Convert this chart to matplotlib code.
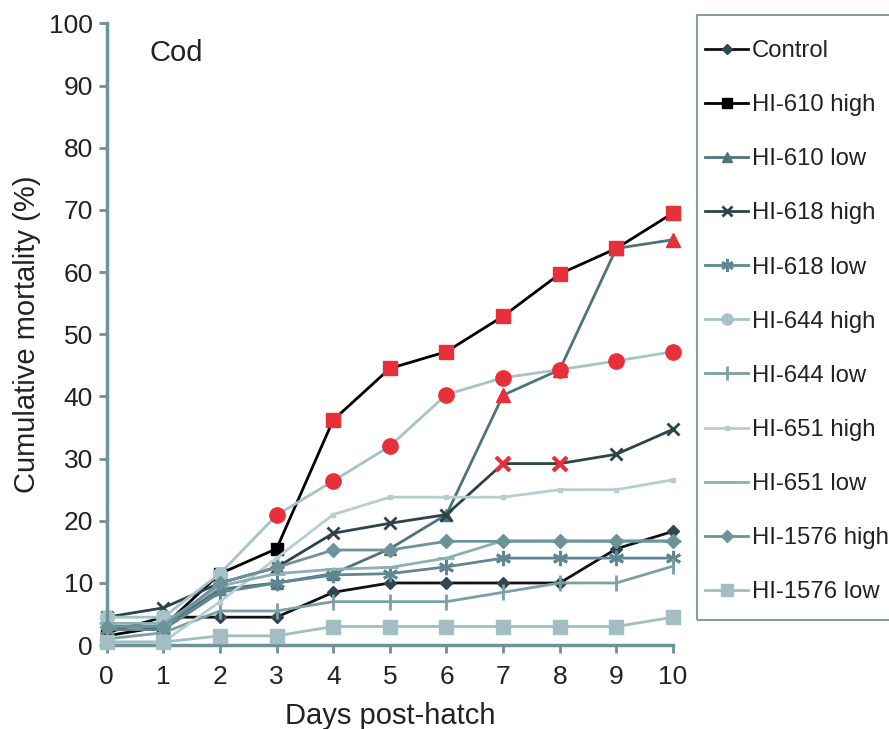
import matplotlib
matplotlib.use("Agg")
import matplotlib.pyplot as plt
from matplotlib.patches import Rectangle

plt.rcParams['font.family'] = ['Liberation Sans', 'DejaVu Sans']

# days post-hatch
days = [0, 1, 2, 3, 4, 5, 6, 7, 8, 9, 10]

# cumulative mortality (%)
control      = [2.0, 4.5, 4.5, 4.5, 8.5, 10.0, 10.0, 10.0, 10.0, 15.5, 18.3]
hi610_high   = [1.5, 3.0, 11.5, 15.5, 36.2, 44.5, 47.2, 52.9, 59.7, 63.8, 69.5]
hi610_low    = [3.0, 3.0, 9.0, 10.0, 11.5, 15.5, 21.0, 40.2, 44.3, 63.8, 65.2]
hi618_high   = [4.5, 6.0, 10.0, 12.5, 18.0, 19.6, 21.0, 29.2, 29.2, 30.7, 34.7]
hi618_low    = [2.5, 2.5, 8.5, 10.0, 11.3, 11.5, 12.6, 14.0, 14.0, 14.0, 14.0]
hi644_high   = [4.5, 4.5, 11.5, 20.9, 26.4, 32.0, 40.3, 43.0, 44.3, 45.7, 47.2]
hi644_low    = [1.0, 2.0, 5.5, 5.5, 7.0, 7.0, 7.0, 8.5, 10.0, 10.0, 12.7]
hi651_high   = [0.5, 0.5, 7.0, 14.0, 21.0, 23.8, 23.8, 23.8, 25.0, 25.0, 26.6]
hi651_low    = [3.5, 3.5, 9.5, 11.5, 12.2, 12.5, 14.0, 16.8, 16.8, 16.8, 16.8]
hi1576_high  = [3.0, 3.0, 10.0, 12.5, 15.3, 15.3, 16.7, 16.7, 16.7, 16.7, 16.7]
hi1576_low   = [0.5, 0.5, 1.5, 1.5, 3.0, 3.0, 3.0, 3.0, 3.0, 3.0, 4.5]

labels = ['Control', 'HI-610 high', 'HI-610 low', 'HI-618 high', 'HI-618 low',
          'HI-644 high', 'HI-644 low', 'HI-651 high', 'HI-651 low',
          'HI-1576 high', 'HI-1576 low']

# days where the point is marked in red (significant)
sig_days = {
    'HI-610 high': [4, 5, 6, 7, 8, 9, 10],
    'HI-610 low': [7, 8, 9, 10],
    'HI-618 high': [7, 8],
    'HI-644 high': [3, 4, 5, 6, 7, 8, 9, 10],
}

series = [control, hi610_high, hi610_low, hi618_high, hi618_low, hi644_high,
          hi644_low, hi651_high, hi651_low, hi1576_high, hi1576_low]

# (line colour, marker colour, marker, marker size)
styles = [
    ('#111111', '#2e4850', 'D', 6.5),
    ('#000000', '#000000', 's', 9),
    ('#4d737c', '#4d737c', '^', 9),
    ('#2c434a', '#2c434a', 'x', 9),
    ('#5f878f', '#5f878f', (6, 2, 0), 11),
    ('#a6c3c7', '#a6c3c7', 'o', 10),
    ('#7aa0a6', '#7aa0a6', '|', 12),
    ('#b4ced1', '#b4ced1', 's', 3),
    ('#8bafb4', '#8bafb4', '_', 12),
    ('#6d939a', '#6d939a', 'D', 7.5),
    ('#a2bec2', '#a2bec2', 's', 10),
]

red = '#e8303a'
axis_col = '#6f9199'

fig = plt.figure(figsize=(8.89, 7.29), dpi=100)
ax = fig.add_axes([0.120, 0.115, 0.637, 0.853])

# light series first so dark lines sit on top
order = [10, 7, 8, 6, 5, 9, 4, 2, 3, 0, 1]
handles = {}
for i in order:
    lc, mc, mk, ms = styles[i]
    mew = 2 if mk in ('x', '|', '_', (6, 2, 0)) else 1
    h, = ax.plot(days, series[i], color=lc, lw=2, marker=mk, ms=ms,
                 markerfacecolor=mc, markeredgecolor=mc, markeredgewidth=mew,
                 clip_on=False, zorder=2 + i * 0.1, label=labels[i])
    handles[i] = h

# red markers for significant days
for i, lab in enumerate(labels):
    if lab in sig_days:
        lc, mc, mk, ms = styles[i]
        xs = sig_days[lab]
        ys = [series[i][d] for d in xs]
        mew = 3 if mk == 'x' else 1
        ax.plot(xs, ys, ls='none', marker=mk, ms=ms + 1, color=red,
                markerfacecolor=red, markeredgecolor=red, markeredgewidth=mew,
                clip_on=False, zorder=5)

ax.set_xlim(0, 10)
ax.set_ylim(0, 100)
ax.set_xticks(range(0, 11))
ax.set_yticks(range(0, 101, 10))
for s in ['top', 'right']:
    ax.spines[s].set_visible(False)
for s in ['left', 'bottom']:
    ax.spines[s].set_color(axis_col)
    ax.spines[s].set_linewidth(2.5)
ax.tick_params(direction='out', length=6, width=2, color=axis_col,
               labelsize=19, labelcolor='#222222', pad=4)
ax.tick_params(axis='x', pad=8)

ax.set_xlabel('Days post-hatch', fontsize=21, color='#222222', labelpad=10)
ax.set_ylabel('Cumulative mortality (%)', fontsize=21, color='#222222', labelpad=6)
ax.text(0.76, 95.3, 'Cod', fontsize=21, color='#222222', va='center', ha='left')

# legend without its own frame, box drawn separately so it runs off the edge
leg = ax.legend([handles[i] for i in range(11)], labels,
                loc='upper left', bbox_to_anchor=(705 / 889, 1 - 40 / 729),
                bbox_transform=fig.transFigure, fontsize=17.2,
                frameon=False, handlelength=1.8, handletextpad=0.15,
                labelspacing=1.345, borderpad=0, borderaxespad=0,
                markerscale=0.8)
for t in leg.get_texts():
    t.set_color('#222222')

fig.patches.append(Rectangle((697 / 889, 1 - 620 / 729), 0.3, (620 - 15) / 729,
                             transform=fig.transFigure, fill=False,
                             edgecolor='#8a9a9e', linewidth=1.5))

fig.savefig('out.png', dpi=100)
